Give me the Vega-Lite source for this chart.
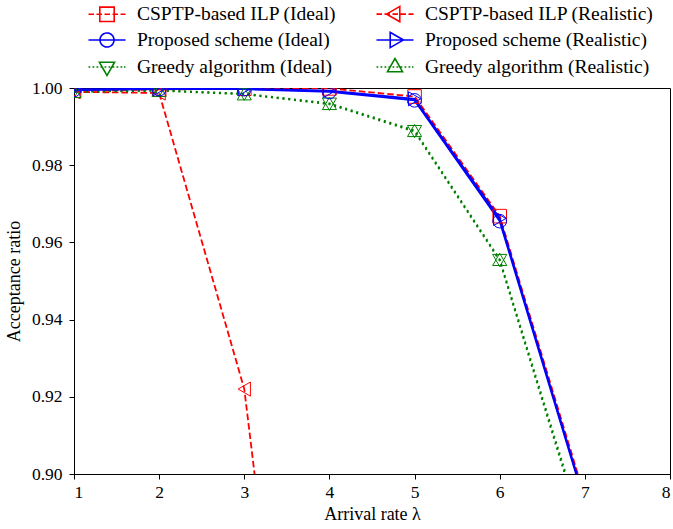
{
  "$schema": "https://vega.github.io/schema/vega-lite/v6.json",
  "width": 596,
  "height": 386,
  "autosize": {"type": "none"},
  "padding": {"left": 74, "top": 88, "right": 3, "bottom": 55},
  "background": "white",
  "config": {
    "view": {"stroke": "black", "strokeWidth": 1},
    "axis": {
      "grid": false,
      "domainColor": "black",
      "tickColor": "black",
      "labelColor": "black",
      "titleColor": "black",
      "labelFont": "Liberation Serif",
      "titleFont": "Liberation Serif",
      "labelFontSize": 17.5,
      "titleFontSize": 18,
      "titleFontWeight": "normal",
      "tickSize": 5,
      "labelPadding": 4
    }
  },
  "data": {
    "values": [
      {"series": "CSPTP-based ILP (Ideal)", "lambda": 1, "ratio": 0.9993},
      {"series": "CSPTP-based ILP (Ideal)", "lambda": 2, "ratio": 0.9996},
      {"series": "CSPTP-based ILP (Ideal)", "lambda": 3, "ratio": 0.9998},
      {"series": "CSPTP-based ILP (Ideal)", "lambda": 4, "ratio": 0.9999},
      {"series": "CSPTP-based ILP (Ideal)", "lambda": 5, "ratio": 0.9978},
      {"series": "CSPTP-based ILP (Ideal)", "lambda": 6, "ratio": 0.9668},
      {"series": "CSPTP-based ILP (Ideal)", "lambda": 7, "ratio": 0.894},
      {"series": "CSPTP-based ILP (Realistic)", "lambda": 1, "ratio": 0.9990},
      {"series": "CSPTP-based ILP (Realistic)", "lambda": 2, "ratio": 0.9987},
      {"series": "CSPTP-based ILP (Realistic)", "lambda": 3, "ratio": 0.9220},
      {"series": "CSPTP-based ILP (Realistic)", "lambda": 4, "ratio": 0.740},
      {"series": "Proposed scheme (Ideal)", "lambda": 1, "ratio": 0.9995},
      {"series": "Proposed scheme (Ideal)", "lambda": 2, "ratio": 0.9997},
      {"series": "Proposed scheme (Ideal)", "lambda": 3, "ratio": 0.9997},
      {"series": "Proposed scheme (Ideal)", "lambda": 4, "ratio": 0.9990},
      {"series": "Proposed scheme (Ideal)", "lambda": 5, "ratio": 0.9968},
      {"series": "Proposed scheme (Ideal)", "lambda": 6, "ratio": 0.9655},
      {"series": "Proposed scheme (Ideal)", "lambda": 7, "ratio": 0.8925},
      {"series": "Proposed scheme (Realistic)", "lambda": 1, "ratio": 0.9996},
      {"series": "Proposed scheme (Realistic)", "lambda": 2, "ratio": 0.9998},
      {"series": "Proposed scheme (Realistic)", "lambda": 3, "ratio": 0.9998},
      {"series": "Proposed scheme (Realistic)", "lambda": 4, "ratio": 0.9993},
      {"series": "Proposed scheme (Realistic)", "lambda": 5, "ratio": 0.9972},
      {"series": "Proposed scheme (Realistic)", "lambda": 6, "ratio": 0.9662},
      {"series": "Proposed scheme (Realistic)", "lambda": 7, "ratio": 0.893},
      {"series": "Greedy algorithm (Ideal)", "lambda": 1, "ratio": 0.9990},
      {"series": "Greedy algorithm (Ideal)", "lambda": 2, "ratio": 0.9993},
      {"series": "Greedy algorithm (Ideal)", "lambda": 3, "ratio": 0.9984},
      {"series": "Greedy algorithm (Ideal)", "lambda": 4, "ratio": 0.9958},
      {"series": "Greedy algorithm (Ideal)", "lambda": 5, "ratio": 0.9887},
      {"series": "Greedy algorithm (Ideal)", "lambda": 6, "ratio": 0.9553},
      {"series": "Greedy algorithm (Ideal)", "lambda": 7, "ratio": 0.883},
      {"series": "Greedy algorithm (Realistic)", "lambda": 1, "ratio": 0.9991},
      {"series": "Greedy algorithm (Realistic)", "lambda": 2, "ratio": 0.9994},
      {"series": "Greedy algorithm (Realistic)", "lambda": 3, "ratio": 0.9985},
      {"series": "Greedy algorithm (Realistic)", "lambda": 4, "ratio": 0.9960},
      {"series": "Greedy algorithm (Realistic)", "lambda": 5, "ratio": 0.9890},
      {"series": "Greedy algorithm (Realistic)", "lambda": 6, "ratio": 0.9556},
      {"series": "Greedy algorithm (Realistic)", "lambda": 7, "ratio": 0.884}
    ]
  },
  "encoding": {
    "x": {
      "field": "lambda",
      "type": "quantitative",
      "scale": {"domain": [1, 8], "nice": false},
      "axis": {"values": [1, 2, 3, 4, 5, 6, 7, 8], "format": "d", "title": "Arrival rate λ", "titlePadding": 5}
    },
    "y": {
      "field": "ratio",
      "type": "quantitative",
      "scale": {"domain": [0.9, 1.0], "nice": false, "zero": false},
      "axis": {"values": [0.9, 0.92, 0.94, 0.96, 0.98, 1.0], "format": ".2f", "title": "Acceptance ratio", "titlePadding": 8, "labelPadding": 7}
    },
    "color": {
      "field": "series",
      "type": "nominal",
      "scale": {
        "domain": ["CSPTP-based ILP (Ideal)", "Proposed scheme (Ideal)", "Greedy algorithm (Ideal)", "CSPTP-based ILP (Realistic)", "Proposed scheme (Realistic)", "Greedy algorithm (Realistic)"],
        "range": ["#ff0000", "#0000ff", "#008000", "#ff0000", "#0000ff", "#008000"]
      },
      "legend": {
        "title": null,
        "orient": "none",
        "legendX": 22,
        "legendY": -85,
        "columns": 2,
        "columnPadding": 36,
        "rowPadding": 4,
        "symbolSize": 400,
        "symbolStrokeWidth": 1.6,
        "labelFont": "Liberation Serif",
        "labelFontSize": 19.5,
        "labelLimit": 500,
        "labelColor": "black",
        "labelOffset": 19,
        "padding": 0,
        "encode": {
          "symbols": {
            "update": {
              "shape": {"signal": "{'CSPTP-based ILP (Ideal)': 'M-1.85,0H-1.3M-1.05,0H-0.5M-0.25,0H0.3M0.55,0H1.1M1.35,0H1.85M-0.72,-0.72H0.72V0.72H-0.72Z', 'CSPTP-based ILP (Realistic)': 'M-1.85,0H-1.3M-1.05,0H-0.5M-0.25,0H0.3M0.55,0H1.1M1.35,0H1.85M-0.85,0L0.48,-0.76L0.48,0.76Z', 'Proposed scheme (Ideal)': 'M-1.85,0H1.85M0.7,0A0.7,0.7,0,1,1,-0.7,0A0.7,0.7,0,1,1,0.7,0Z', 'Proposed scheme (Realistic)': 'M-1.85,0H1.85M0.85,0L-0.48,-0.76L-0.48,0.76Z', 'Greedy algorithm (Ideal)': 'M-1.85,0h0.18M-1.45,0h0.18M-1.05,0h0.18M-0.65,0h0.18M-0.25,0h0.18M0.15,0h0.18M0.55,0h0.18M0.95,0h0.18M1.35,0h0.18M1.7,0h0.15M-0.76,-0.48L0.76,-0.48L0,0.85Z', 'Greedy algorithm (Realistic)': 'M-1.85,0h0.18M-1.45,0h0.18M-1.05,0h0.18M-0.65,0h0.18M-0.25,0h0.18M0.15,0h0.18M0.55,0h0.18M0.95,0h0.18M1.35,0h0.18M1.7,0h0.15M0,-0.85L0.76,0.48L-0.76,0.48Z'}[datum.value]"},
              "fill": {"value": "transparent"},
              "strokeDash": {"value": [1, 0]},
              "opacity": {"value": 1}
            }
          }
        }
      }
    }
  },
  "layer": [
    {
      "transform": [{"filter": "indexof(datum.series, 'CSPTP') >= 0"}],
      "mark": {"type": "line", "clip": true, "strokeDash": [6.5, 3], "strokeWidth": 1.8}
    },
    {
      "transform": [{"filter": "indexof(datum.series, 'Greedy') >= 0"}],
      "mark": {"type": "line", "clip": true, "strokeDash": [2, 3.8], "strokeWidth": 2}
    },
    {
      "transform": [{"filter": "indexof(datum.series, 'Proposed') >= 0"}],
      "mark": {"type": "line", "clip": true, "strokeWidth": 1.9}
    },
    {
      "transform": [{"filter": "datum.series === 'CSPTP-based ILP (Ideal)'"}],
      "mark": {"type": "point", "clip": true, "filled": false, "strokeWidth": 1, "size": 185, "opacity": 1, "shape": "square"}
    },
    {
      "transform": [{"filter": "datum.series === 'CSPTP-based ILP (Realistic)'"}],
      "mark": {"type": "point", "clip": true, "filled": false, "strokeWidth": 1, "size": 200, "opacity": 1, "shape": "triangle-left"}
    },
    {
      "transform": [{"filter": "datum.series === 'Greedy algorithm (Ideal)'"}],
      "mark": {"type": "point", "clip": true, "filled": false, "strokeWidth": 1, "size": 200, "opacity": 1, "shape": "triangle-down"}
    },
    {
      "transform": [{"filter": "datum.series === 'Greedy algorithm (Realistic)'"}],
      "mark": {"type": "point", "clip": true, "filled": false, "strokeWidth": 1, "size": 200, "opacity": 1, "shape": "triangle-up"}
    },
    {
      "transform": [{"filter": "datum.series === 'Proposed scheme (Ideal)'"}],
      "mark": {"type": "point", "clip": true, "filled": false, "strokeWidth": 1, "size": 185, "opacity": 1, "shape": "circle"}
    },
    {
      "transform": [{"filter": "datum.series === 'Proposed scheme (Realistic)'"}],
      "mark": {"type": "point", "clip": true, "filled": false, "strokeWidth": 1, "size": 200, "opacity": 1, "shape": "triangle-right"}
    }
  ]
}
